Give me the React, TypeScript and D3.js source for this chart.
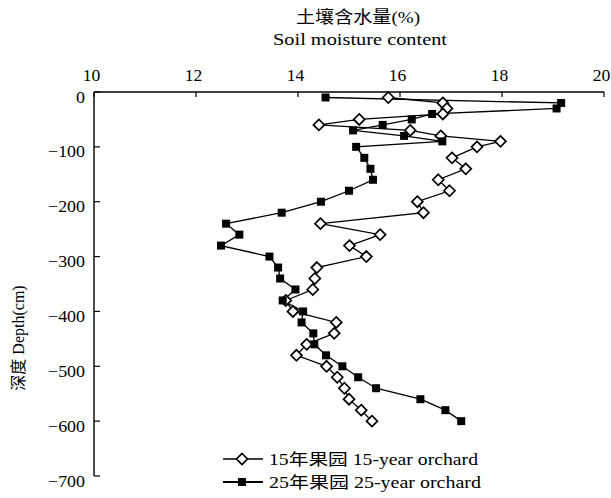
import * as d3 from 'd3';

// depth (cm) of each sampling layer
const depths = [
  -10, -20, -30, -40, -50, -60, -70, -80, -90, -100,
  -120, -140, -160, -180, -200, -220, -240, -260, -280, -300,
  -320, -340, -360, -380, -400, -420, -440, -460, -480, -500,
  -520, -540, -560, -580, -600,
];

// soil moisture content (%)
const orchard15 = [
  15.77, 16.84, 16.92, 16.84, 15.2, 14.41, 16.2, 16.8, 17.97, 17.51,
  17.02, 17.29, 16.75, 16.97, 16.34, 16.46, 14.44, 15.61, 15.01, 15.34,
  14.37, 14.33, 14.29, 13.76, 13.9, 14.75, 14.71, 14.17, 13.97, 14.56,
  14.77, 14.91, 15.0, 15.24, 15.45,
];
const orchard25 = [
  14.54, 19.16, 19.07, 16.63, 16.23, 15.66, 15.08, 16.08, 16.83, 15.14,
  15.3, 15.42, 15.47, 15.0, 14.45, 13.68, 12.59, 12.85, 12.49, 13.44,
  13.61, 13.65, 13.95, 13.7, 14.1, 14.07, 14.3, 14.32, 14.55, 14.87,
  15.18, 15.53, 16.4, 16.89, 17.2,
];

const xTicks = [10, 12, 14, 16, 18, 20];
const yTicks = [0, -100, -200, -300, -400, -500, -600, -700];

const legendItems = [
  { label: '15年果园  15-year orchard', filled: false },
  { label: '25年果园  25-year orchard', filled: true },
];

const width = 611;
const height = 498;
const font = "'Liberation Serif', 'Noto Sans CJK SC', serif";

type Pt = { v: number; d: number };

function Diamond({ cx, cy }: { cx: number; cy: number }) {
  const r = 5.5;
  return (
    <path
      d={`M${cx},${cy - r}L${cx + r},${cy}L${cx},${cy + r}L${cx - r},${cy}Z`}
      fill="white"
      stroke="black"
      strokeWidth={1.7}
    />
  );
}

function Square({ cx, cy }: { cx: number; cy: number }) {
  const s = 8;
  return <rect x={cx - s / 2} y={cy - s / 2} width={s} height={s} fill="black" />;
}

export default function App() {
  const x = d3.scaleLinear().domain([10, 20]).range([94, 604]);
  const y = d3.scaleLinear().domain([0, -700]).range([92, 476]);

  const s15: Pt[] = depths.map((d, i) => ({ d, v: orchard15[i] }));
  const s25: Pt[] = depths.map((d, i) => ({ d, v: orchard25[i] }));

  const line = d3.line<Pt>().x((p) => x(p.v)).y((p) => y(p.d));

  return (
    <svg
      width={width}
      height={height}
      style={{ position: 'absolute', left: 0, top: 0, background: 'white' }}
      fontFamily={font}
    >
      {/* titles */}
      <text x={296} y={23} fontSize={17} textLength={124} lengthAdjust="spacingAndGlyphs">
        土壤含水量(%)
      </text>
      <text x={273} y={45} fontSize={17} textLength={174} lengthAdjust="spacingAndGlyphs">
        Soil moisture content
      </text>

      {/* top axis */}
      <line x1={x(10)} x2={x(20)} y1={y(0)} y2={y(0)} stroke="black" strokeWidth={1.4} />
      {xTicks.map((t) => (
        <g key={t} transform={`translate(${x(t)},0)`}>
          <line y1={y(0)} y2={y(0) + 5} stroke="black" strokeWidth={1.2} />
          <g transform="translate(-2.5,81) scale(1.1,1)">
            <text textAnchor="middle" fontSize={16}>
              {t}
            </text>
          </g>
        </g>
      ))}

      {/* left axis */}
      <line x1={x(10)} x2={x(10)} y1={y(0)} y2={y(-700)} stroke="black" strokeWidth={1.4} />
      {yTicks.map((t) => (
        <g key={t} transform={`translate(0,${y(t)})`}>
          <line x1={x(10)} x2={x(10) + 6} stroke="black" strokeWidth={1.2} />
          <g transform="translate(85,10.5) scale(1.12,1)">
            <text textAnchor="end" fontSize={16}>
              {t === 0 ? '0' : `\u2212${Math.abs(t)}`}
            </text>
          </g>
        </g>
      ))}
      <text transform="translate(24,338) rotate(-90)" textAnchor="middle" fontSize={16}>
        深度 Depth(cm)
      </text>

      {/* series */}
      <path d={line(s15) || ''} fill="none" stroke="black" strokeWidth={1.3} />
      <path d={line(s25) || ''} fill="none" stroke="black" strokeWidth={1.3} />
      {s15.map((p) => (
        <Diamond key={`a${p.d}`} cx={x(p.v)} cy={y(p.d)} />
      ))}
      {s25.map((p) => (
        <Square key={`b${p.d}`} cx={x(p.v)} cy={y(p.d)} />
      ))}

      {/* legend */}
      {legendItems.map((item, i) => {
        const ly = 459 + i * 23;
        return (
          <g key={item.label}>
            <line
              x1={223}
              x2={263}
              y1={ly}
              y2={ly}
              stroke="black"
              strokeWidth={item.filled ? 1.8 : 1.4}
            />
            {item.filled ? <Square cx={242} cy={ly} /> : <Diamond cx={242} cy={ly} />}
            <text
              x={269}
              y={ly + 6}
              fontSize={16}
              textLength={item.filled ? 212 : 209}
              lengthAdjust="spacingAndGlyphs"
            >
              {item.label}
            </text>
          </g>
        );
      })}
    </svg>
  );
}
